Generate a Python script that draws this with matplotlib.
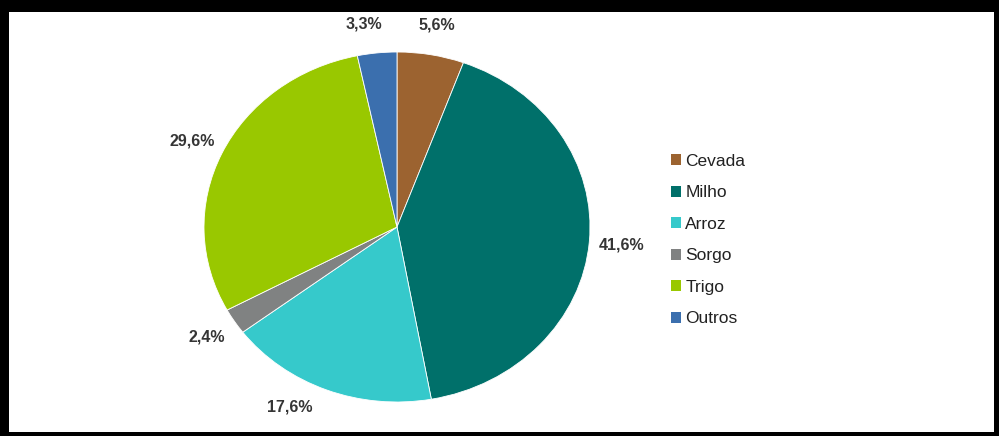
import matplotlib.pyplot as plt
from matplotlib.patches import Patch
import numpy as np

plt.rcParams['font.family'] = ['Liberation Sans', 'DejaVu Sans']

labels = ["Cevada", "Milho", "Arroz", "Sorgo", "Trigo", "Outros"]
values = [5.6, 41.6, 17.6, 2.4, 29.6, 3.3]
colours = ["#9C6330", "#00706A", "#36C9CB", "#808282", "#99C800", "#3B6FAE"]

W, H = 999, 436
fig = plt.figure(figsize=(W / 100, H / 100), dpi=100, facecolor="black")

# white inner panel inside the black frame
bg = fig.add_axes([9 / W, 1 - 432 / H, (994 - 9) / W, (432 - 12) / H])
bg.set_facecolor("white")
bg.set_xticks([])
bg.set_yticks([])
for s in bg.spines.values():
    s.set_visible(False)

# pie axes sized to the (slightly stretched) pie bounding box
left, right, top, bottom = 204, 590, 52, 402
ax = fig.add_axes([left / W, 1 - bottom / H, (right - left) / W, (bottom - top) / H])

wedges, texts = ax.pie(
    values,
    colors=colours,
    startangle=90,
    counterclock=False,
    normalize=True,
    wedgeprops=dict(edgecolor="white", linewidth=0.6),
)
ax.set_aspect("auto")
ax.set_xlim(-1, 1)
ax.set_ylim(-1, 1)
ax.axis("off")

# percentage labels around the wedge midpoints (small nudge for Arroz, like Excel's best fit)
nudge = {"Arroz": -7, "Outros": 2.5}
for name, v, w in zip(labels, values, wedges):
    mid = np.deg2rad((w.theta1 + w.theta2) / 2 + nudge.get(name, 0))
    r = 1.17
    txt = f"{v:.1f}%".replace(".", ",")
    ax.text(r * np.cos(mid), r * np.sin(mid), txt, ha="center", va="center",
            fontsize=11.5, color="#353535", fontweight="bold")

handles = [Patch(facecolor=c, edgecolor="none") for c in colours]
fig.legend(handles, labels, loc="center left", bbox_to_anchor=(655 / W, 1 - 240 / H),
           frameon=False, fontsize=12.5, handlelength=0.6, handleheight=0.6,
           handletextpad=0.25, labelspacing=0.95, labelcolor="#222222")

plt.savefig("out.png", dpi=100, facecolor="black")
